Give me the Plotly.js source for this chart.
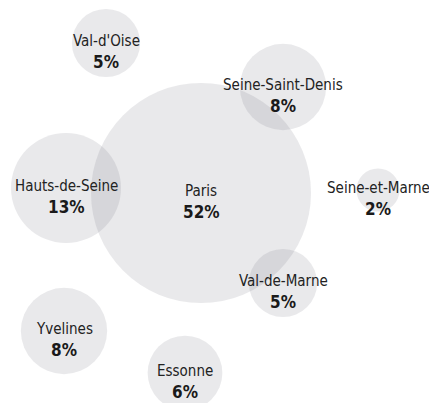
<!DOCTYPE html>
<html>
<head>
<meta charset="utf-8">
<script src="https://cdn.plot.ly/plotly-3.0.1.min.js"></script>
<style>html,body{margin:0;padding:0;background:#fff;}#chart{width:429px;height:403px;}</style>
</head>
<body>
<div id="chart"></div>
<script>
// Départements and their share (%)
const names = ["Paris", "Hauts-de-Seine", "Seine-Saint-Denis", "Val-de-Marne", "Val-d'Oise", "Yvelines", "Essonne", "Seine-et-Marne"];
const shares = [52, 13, 8, 5, 5, 8, 6, 2];
// bubble layout positions (packed chart layout)
const posX = [201, 66, 283, 283, 106, 64, 185, 378];
const posY = [193, 188, 87, 283, 43, 331, 373, 190];

const FONT = "'Liberation Sans Narrow', 'DejaVu Sans Condensed', 'Arial Narrow', sans-serif";

const trace = {
  type: 'scatter',
  mode: 'markers',
  x: posX,
  y: posY,
  hoverinfo: 'skip',
  marker: {
    size: shares,
    sizemode: 'area',
    sizeref: 2 * 52 / (220 * 220),
    color: 'rgba(118,118,128,0.23)',
    line: {width: 0}
  }
};

const annotations = [];
names.forEach((n, i) => {
  annotations.push({
    x: posX[i], y: posY[i], xref: 'x', yref: 'y',
    text: n, showarrow: false,
    xanchor: 'center', yanchor: 'middle', yshift: 2,
    font: {family: FONT, size: 15, color: '#222'}
  });
  annotations.push({
    x: posX[i], y: posY[i], xref: 'x', yref: 'y',
    text: '<b>' + shares[i] + '%</b>', showarrow: false,
    xanchor: 'center', yanchor: 'middle', yshift: -19,
    font: {family: FONT, size: 17, color: '#1a1a1a'}
  });
});

const layout = {
  width: 429, height: 403,
  margin: {l: 0, r: 0, t: 0, b: 0},
  paper_bgcolor: '#fff', plot_bgcolor: '#fff',
  showlegend: false,
  xaxis: {range: [0, 429], visible: false, fixedrange: true},
  yaxis: {range: [403, 0], visible: false, fixedrange: true},
  annotations: annotations
};

Plotly.newPlot('chart', [trace], layout, {displayModeBar: false, staticPlot: true});
</script>
</body>
</html>
